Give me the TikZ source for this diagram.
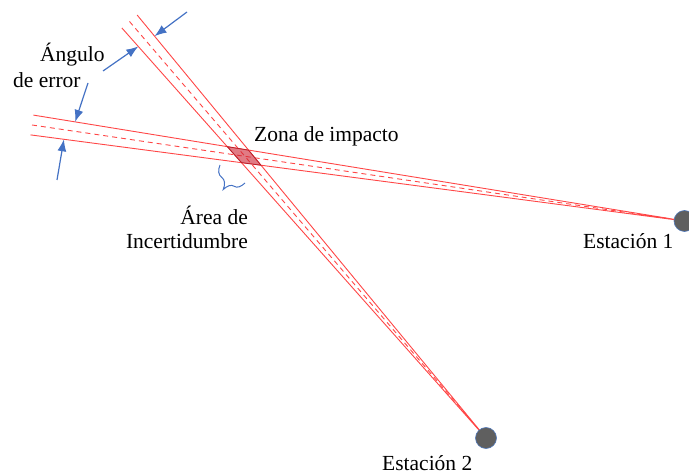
\documentclass[tikz,border=0pt]{standalone}
\usepackage{fontspec}
\setmainfont{Liberation Serif}
\usepackage{tikz}
\usetikzlibrary{
  arrows.meta,
  calc,
  decorations.pathreplacing
}
\definecolor{beamred}{RGB}{255,70,70}
\definecolor{zonered}{RGB}{205,35,50}
\definecolor{arrowblue}{RGB}{68,114,196}
\definecolor{stationgray}{RGB}{95,95,95}
\definecolor{stationedge}{RGB}{80,120,185}

\begin{document}
\begin{tikzpicture}[
    x=1pt, y=-1pt,
    font=\fontsize{21.5}{25}\selectfont,
    >=Latex,
    beam/.style={
      draw=beamred,
      line width=0.9pt
    },
    axis/.style={
      draw=beamred,
      line width=0.9pt,
      dash pattern=on 5pt off 4pt
    },
    pointer/.style={
      draw=arrowblue,
      line width=1.2pt,
      -{Latex[length=12pt,width=9pt]}
    },
    bracket/.style={
      draw=arrowblue,
      line width=1pt,
      decorate,
      decoration={brace,amplitude=18pt,aspect=0.45}
    },
    station/.style={
      circle,
      fill=stationgray,
      draw=stationedge,
      line width=0.6pt,
      minimum size=21pt,
      inner sep=0pt
    },
    txt/.style={inner sep=0pt}
  ]
  \useasboundingbox (0,0) rectangle (689,476);

  % ========== Beams ==========
  \coordinate (s1) at (684.5,221);
  \coordinate (s2) at (486,438);
  \coordinate (e1) at (32,125);
  \coordinate (e2) at (129.5,21.5);

  \coordinate (e1u) at ($(e1)!10pt!90:(s1)$);
  \coordinate (e1l) at ($(e1)!10pt!-90:(s1)$);
  \coordinate (e2r) at ($(e2)!10pt!90:(s2)$);
  \coordinate (e2l) at ($(e2)!10pt!-90:(s2)$);

  \draw[beam] (e1u) -- (s1) -- (e1l);
  \draw[axis] (e1) -- (s1);
  \draw[beam] (e2r) -- (s2) -- (e2l);
  \draw[axis] (e2) -- (s2);

  % impact zone
  \coordinate (z1) at (intersection of s1--e1u and s2--e2l);
  \coordinate (z2) at (intersection of s1--e1u and s2--e2r);
  \coordinate (z3) at (intersection of s1--e1l and s2--e2r);
  \coordinate (z4) at (intersection of s1--e1l and s2--e2l);
  \filldraw[fill=zonered,fill opacity=0.6,draw=zonered!85!black,line width=0.6pt]
    (z1) -- (z2) -- (z3) -- (z4) -- cycle;

  % ========== Stations ==========
  \node[station] (st1) at (s1) {};
  \node[station] (st2) at (s2) {};

  % ========== Error angle ==========
  \coordinate (a1) at (187,12);
  \coordinate (p1) at ($(e2r)!0.05!(s2)$);
  \coordinate (a2) at (103,71);
  \coordinate (p2) at ($(e2l)!0.045!(s2)$);
  \coordinate (a3) at (88,83);
  \coordinate (p3) at ($(e1u)!0.064!(s1)$);
  \coordinate (a4) at (57,180);
  \coordinate (p4) at ($(e1l)!0.051!(s1)$);

  \draw[pointer] (a1) -- (p1);
  \draw[pointer] (a2) -- (p2);
  \draw[pointer] (a3) -- (p3);
  \draw[pointer] (a4) -- (p4);

  \coordinate (b1) at (245,183);
  \coordinate (b2) at (220,165);
  \draw[bracket] (b1) -- (b2);

  % ========== Labels ==========
  \node[txt,anchor=base west] (ang1) at (40,62) {Ángulo};
  \node[txt,anchor=base west] (ang2) at (13,88) {de error};
  \node[txt,anchor=base west] (zona) at (254,142) {Zona de impacto};
  \node[txt,anchor=base east] (area1) at (248,225) {Área de};
  \node[txt,anchor=base east] (area2) at (248,249) {Incertidumbre};
  \node[txt,anchor=base west] (est1) at (583,248) {Estación 1};
  \node[txt,anchor=base west] (est2) at (382,470) {Estación 2};
\end{tikzpicture}
\end{document}
